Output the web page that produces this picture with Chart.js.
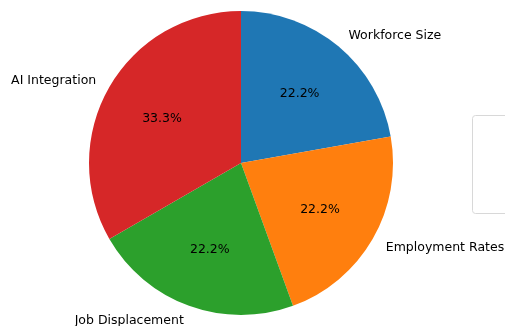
<!DOCTYPE html>
<html>
<head>
<meta charset="utf-8">
<script src="https://cdn.jsdelivr.net/npm/chart.js@4/dist/chart.umd.min.js"></script>
<style>
  html, body { margin: 0; padding: 0; background: #fff; }
</style>
</head>
<body>
<canvas id="chart" width="505" height="326"></canvas>
<script>
const categories = ["Workforce Size", "Employment Rates", "Job Displacement", "AI Integration"];
const values = [2, 2, 2, 3];
const colors = ["#1f77b4", "#ff7f0e", "#2ca02c", "#d62728"];

// labels outside (1.1 r) and percentages inside (0.6 r), matplotlib style
const sliceLabels = {
  id: "sliceLabels",
  afterDatasetsDraw(chart) {
    const ctx = chart.ctx;
    const meta = chart.getDatasetMeta(0);
    const total = values.reduce((a, b) => a + b, 0);
    ctx.save();
    ctx.font = "12.5px 'DejaVu Sans'";
    ctx.fillStyle = "#000";
    ctx.textBaseline = "middle";
    meta.data.forEach((arc, i) => {
      const mid = (arc.startAngle + arc.endAngle) / 2;
      const r = arc.outerRadius;
      const lx = arc.x + Math.cos(mid) * r * 1.1;
      const ly = arc.y + Math.sin(mid) * r * 1.1 + 1;
      ctx.textAlign = Math.cos(mid) >= 0 ? "left" : "right";
      ctx.fillText(categories[i], lx, ly);
      const px = arc.x + Math.cos(mid) * r * 0.6;
      const py = arc.y + Math.sin(mid) * r * 0.6 + 1;
      ctx.textAlign = "center";
      ctx.fillText((values[i] / total * 100).toFixed(1) + "%", px, py);
    });
    ctx.restore();
  }
};

// empty legend frame at the right edge
const emptyLegend = {
  id: "emptyLegend",
  afterDraw(chart) {
    const ctx = chart.ctx;
    ctx.save();
    ctx.strokeStyle = "#d8d8d8";
    ctx.lineWidth = 1;
    ctx.beginPath();
    ctx.roundRect(472.5, 115.5, 50, 98, 3);
    ctx.stroke();
    ctx.restore();
  }
};

new Chart(document.getElementById("chart").getContext("2d"), {
  type: "pie",
  data: {
    labels: categories,
    datasets: [
      {
        data: values,
        backgroundColor: colors,
        borderWidth: 0,
      },
    ],
  },
  options: {
    responsive: false,
    animation: false,
    rotation: 0,
    layout: {
      padding: { left: 89, right: 112, top: 11, bottom: 11 },
    },
    plugins: {
      legend: { display: false },
      tooltip: { enabled: false },
    },
  },
  plugins: [sliceLabels, emptyLegend],
});
</script>
</body>
</html>
